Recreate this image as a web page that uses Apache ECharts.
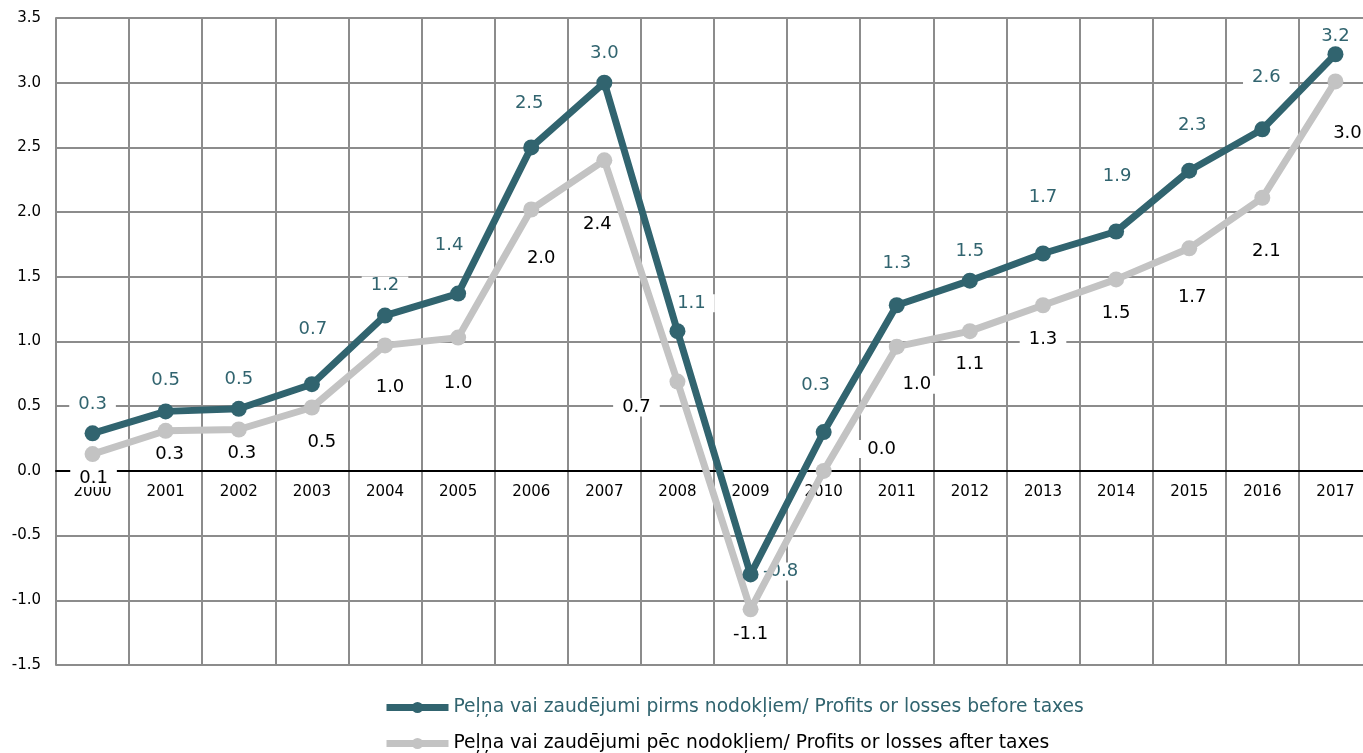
<!DOCTYPE html>
<html>
<head>
<meta charset="utf-8">
<script src="https://cdn.jsdelivr.net/npm/echarts@6/dist/echarts.min.js"></script>
<style>
    html, body { margin: 0; padding: 0; background: #fff; }
    #chart { width: 1363px; height: 753px; }
</style>
</head>
<body>
<div id="chart"></div>
<script>
    const years = ['2000', '2001', '2002', '2003', '2004', '2005', '2006', '2007', '2008',
        '2009', '2010', '2011', '2012', '2013', '2014', '2015', '2016', '2017']
    const beforeTaxes = [0.29, 0.46, 0.48, 0.67, 1.2, 1.37, 2.5, 3.0, 1.08,
        -0.8, 0.3, 1.28, 1.47, 1.68, 1.85, 2.32, 2.64, 3.22]
    const afterTaxes = [0.13, 0.31, 0.32, 0.49, 0.97, 1.03, 2.02, 2.4, 0.69,
        -1.07, 0.0, 0.96, 1.08, 1.28, 1.48, 1.72, 2.11, 3.01]
    const nameBefore = 'Peļņa vai zaudējumi pirms nodokļiem/ Profits or losses before taxes'
    const nameAfter = 'Peļņa vai zaudējumi pēc nodokļiem/ Profits or losses after taxes'

    // label offsets from the point, px
    const offBefore = [[0, -29], [0, -31], [0, -29], [1, -55], [0, -30], [-9, -48], [-2, -44], [0, -29], [14, -28],
        [30, -3], [-8, -47], [0, -42], [0, -29], [0, -56], [1, -55], [3, -45], [4, -52], [0, -18]]
    const offAfter = [[1, 24], [4, 24], [3, 24], [10, 35], [5, 42], [0, 46], [10, 49], [-7, 64], [-41, 26],
        [0, 25], [58, -22], [20, 38], [0, 33], [0, 34], [0, 34], [3, 49], [4, 53], [12, 52]]

    const dark = '#31646f'
    const grey = '#c3c3c3'
    const gridColor = '#8c8c8c'
    const font = 'DejaVu Sans, Verdana, sans-serif'

    function points(values, offsets) {
        return values.map((v, i) => ({value: v, label: {offset: offsets[i]}}))
    }

    function fmt(v) {
        let s = v.toFixed(1)
        return s === '-0.0' ? '0.0' : s
    }

    // text-only series drawn under the lines, white box hides the grid behind the numbers
    function labelSeries(name, values, offsets, color) {
        return {
            name: name,
            type: 'line',
            data: points(values, offsets),
            symbol: 'circle',
            symbolSize: 1,
            itemStyle: {color: 'rgba(0,0,0,0)'},
            lineStyle: {width: 0, opacity: 0},
            silent: true,
            z: 1,
            label: {
                show: true,
                position: 'inside',
                color: color,
                fontFamily: font,
                fontSize: 18,
                backgroundColor: '#fff',
                padding: [0, 9],
                formatter: p => fmt(p.value)
            }
        }
    }

    function lineSeries(name, values, color, z) {
        return {
            name: name,
            type: 'line',
            data: values,
            symbol: 'circle',
            symbolSize: 16,
            lineStyle: {color: color, width: 7},
            itemStyle: {color: color},
            label: {show: false},
            z: z
        }
    }

    function legendBox(name, top, textColor) {
        return {
            orient: 'vertical',
            left: 383,
            top: top,
            padding: 0,
            itemWidth: 62,
            itemHeight: 14,
            lineStyle: {width: 7},
            textStyle: {fontFamily: font, fontSize: 18.7, color: textColor},
            data: [name]
        }
    }

    let myChart = echarts.init(document.getElementById('chart'))
    myChart.setOption({
        animation: false,
        grid: {
            left: 56,
            right: -9,
            top: 18,
            bottom: 88,
            outerBoundsMode: 'none'
        },
        legend: [
            legendBox(nameBefore, 698, dark),
            legendBox(nameAfter, 734, '#000')
        ],
        xAxis: {
            type: 'category',
            data: years,
            boundaryGap: true,
            position: 'bottom',
            offset: -194,
            axisLine: {onZero: false, lineStyle: {color: '#000', width: 2}},
            axisTick: {show: false},
            axisLabel: {color: '#000', fontFamily: font, fontSize: 15, margin: 14},
            splitLine: {show: true, lineStyle: {color: gridColor, width: 2}}
        },
        yAxis: {
            type: 'value',
            min: -1.5,
            max: 3.5,
            interval: 0.5,
            axisLine: {show: true, lineStyle: {color: gridColor, width: 2}},
            axisTick: {show: false},
            axisLabel: {
                color: '#000',
                fontFamily: font,
                fontSize: 15,
                margin: 15,
                formatter: v => v.toFixed(1)
            },
            splitLine: {lineStyle: {color: gridColor, width: 2}}
        },
        series: [
            labelSeries('after-labels', afterTaxes, offAfter, '#000'),
            labelSeries('before-labels', beforeTaxes, offBefore, dark),
            lineSeries(nameAfter, afterTaxes, grey, 2),
            lineSeries(nameBefore, beforeTaxes, dark, 3)
        ]
    })
</script>
</body>
</html>
